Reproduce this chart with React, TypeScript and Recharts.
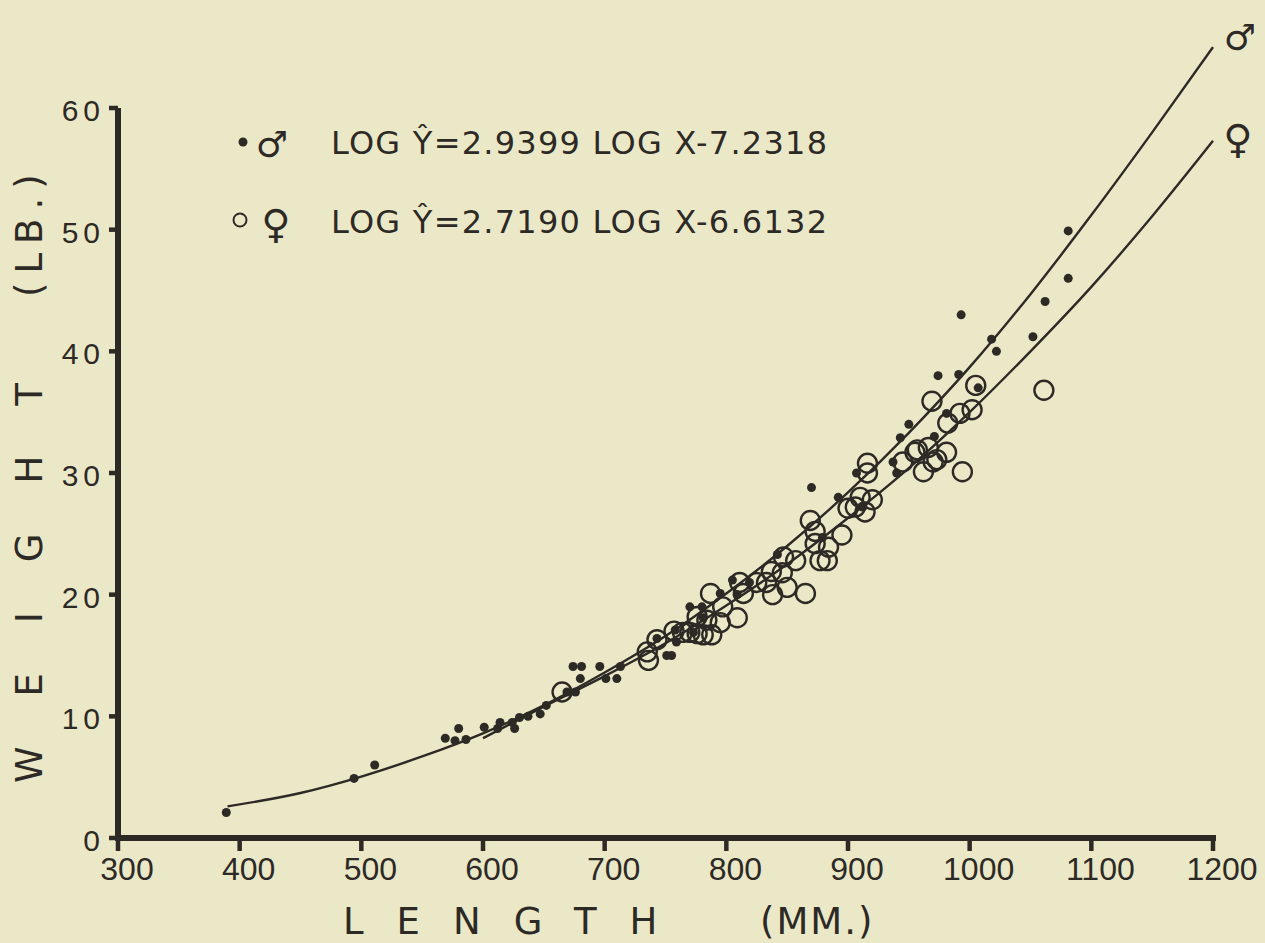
import React from 'react';
import {
  ComposedChart,
  Scatter,
  Line,
  XAxis,
  YAxis,
  ReferenceLine,
} from 'recharts';

// length (mm) / weight (lb) of individual fish
const maleLen = [
  389, 494, 511, 569, 577, 580, 586, 601, 612, 614, 624, 626, 630, 637, 647, 652,
  669, 676, 680, 674, 681, 696, 713, 701, 710, 743, 751, 755, 759, 758, 770, 780,
  773, 781, 795, 805, 809, 819, 842, 870, 879, 892, 907, 912, 937, 940, 943, 950,
  971, 981, 974, 991, 993, 1007, 1018, 1022, 1052, 1062, 1081, 1081,
];
const maleWt = [
  2.1, 4.9, 6.0, 8.2, 8.0, 9.0, 8.1, 9.1, 9.0, 9.5, 9.5, 9.0, 9.9, 10.0, 10.2, 10.9,
  12.0, 12.0, 13.1, 14.1, 14.1, 14.1, 14.1, 13.1, 13.1, 16.4, 15.0, 15.0, 16.1, 17.1, 19.0, 19.0,
  16.9, 18.1, 20.1, 21.2, 20.0, 21.0, 23.3, 28.8, 24.7, 28.0, 30.0, 27.2, 30.9, 30.0, 32.9, 34.0,
  33.0, 34.9, 38.0, 38.1, 43.0, 37.0, 41.0, 40.0, 41.2, 44.1, 46.0, 49.9,
];

const femaleLen = [
  665, 735, 736, 743, 757, 764, 770, 776, 781, 788, 776, 784, 795, 797, 787, 809,
  814, 811, 825, 833, 838, 850, 865, 846, 837, 847, 857, 869, 873, 873, 884, 895,
  877, 883, 900, 910, 920, 914, 906, 916, 916, 945, 955, 957, 966, 973, 981, 962,
  970, 994, 982, 992, 1002, 969, 1005, 1061,
];
const femaleWt = [
  12.0, 15.3, 14.6, 16.3, 17.0, 16.9, 16.9, 16.8, 16.7, 16.7, 18.2, 17.9, 17.7, 19.0, 20.1, 18.1,
  20.1, 21.0, 21.0, 21.0, 20.0, 20.6, 20.1, 21.8, 21.9, 23.1, 22.8, 26.1, 25.2, 24.2, 23.9, 24.9,
  22.8, 22.8, 27.1, 28.0, 27.8, 26.8, 27.2, 30.8, 30.0, 30.9, 31.7, 31.9, 32.1, 31.1, 31.7, 30.1,
  30.9, 30.1, 34.1, 34.9, 35.2, 35.9, 37.2, 36.8,
];

// fitted curves as drawn on the plot
const maleCurveLen = [390, 450, 500, 550, 600, 650, 700, 750, 800, 850, 900, 950, 1000, 1050, 1100, 1150, 1200];
const maleCurveWt = [2.6, 3.7, 5.05, 6.7, 8.6, 10.9, 13.6, 16.6, 20.1, 24.0, 28.4, 33.3, 38.7, 44.7, 51.2, 58.0, 65.0];
const femaleCurveLen = [600, 650, 700, 750, 800, 850, 900, 950, 1000, 1050, 1100, 1150, 1200];
const femaleCurveWt = [8.2, 10.8, 13.3, 16.0, 19.1, 22.5, 26.3, 30.4, 35.0, 40.0, 45.3, 51.1, 57.3];

const xTicks = [300, 400, 500, 600, 700, 800, 900, 1000, 1100, 1200];
const yTicks = [0, 10, 20, 30, 40, 50, 60];

const maleEq = 'LOG Ŷ=2.9399 LOG X-7.2318';
const femaleEq = 'LOG Ŷ=2.7190 LOG X-6.6132';

const BG = '#ebe8c8';
const INK = '#2d2a26';
const FONT = '"DejaVu Sans", sans-serif';
const NUM_FONT = '"Liberation Sans", sans-serif';

const W = 1257;
const H = 935;

const zip = (xs: number[], ys: number[]) => xs.map((x, i) => ({ x, y: ys[i] }));

const maleData = zip(maleLen, maleWt);
const femaleData = zip(femaleLen, femaleWt);
const maleCurve = zip(maleCurveLen, maleCurveWt);
const femaleCurve = zip(femaleCurveLen, femaleCurveWt);

const Dot = (props: any) => <circle cx={props.cx} cy={props.cy} r={4.5} fill={INK} />;
const Ring = (props: any) => (
  <circle cx={props.cx} cy={props.cy} r={9.5} fill="none" stroke={INK} strokeWidth={2.4} />
);

const XTick = ({ x, y, payload }: any) => (
  <text x={x + 9} y={y} dy={29} textAnchor="middle" fontSize={32} fontFamily={NUM_FONT} fill={INK}>
    {payload.value}
  </text>
);

const YTick = ({ x, y, payload }: any) => (
  <text x={x - 4} y={y} dy={13} textAnchor="end" fontSize={30} letterSpacing={5} fontFamily={NUM_FONT} fill={INK}>
    {payload.value}
  </text>
);

export default function App() {
  return (
    <div style={{ position: 'fixed', inset: 0, background: BG }}>
      <div style={{ position: 'absolute', left: 8, top: 8, width: W, height: H }}>
        <ComposedChart width={W} height={H} margin={{ top: 27, right: 52, bottom: 45, left: 0 }}>
          <XAxis
            dataKey="x"
            type="number"
            domain={[300, 1200]}
            ticks={xTicks}
            interval={0}
            height={60}
            tickSize={13}
            tickMargin={0}
            axisLine={{ stroke: INK, strokeWidth: 6, strokeLinecap: 'square' }}
            tickLine={{ stroke: INK, strokeWidth: 4.5 }}
            tick={<XTick />}
          />
          <YAxis
            type="number"
            domain={[0, 66]}
            ticks={yTicks}
            interval={0}
            width={110}
            tickSize={9}
            tickMargin={0}
            axisLine={false}
            tickLine={{ stroke: INK, strokeWidth: 4.5 }}
            tick={<YTick />}
          />
          <ReferenceLine
            segment={[{ x: 300, y: 0 }, { x: 300, y: 60 }]}
            stroke={INK}
            strokeWidth={6}
          />
          <Line
            data={maleCurve}
            dataKey="y"
            type="monotone"
            stroke={INK}
            strokeWidth={2.4}
            dot={false}
            isAnimationActive={false}
          />
          <Line
            data={femaleCurve}
            dataKey="y"
            type="monotone"
            stroke={INK}
            strokeWidth={2.4}
            dot={false}
            isAnimationActive={false}
          />
          <Scatter data={maleData} dataKey="y" shape={<Dot />} isAnimationActive={false} />
          <Scatter data={femaleData} dataKey="y" shape={<Ring />} isAnimationActive={false} />
        </ComposedChart>

        <svg
          width={W}
          height={H}
          style={{ position: 'absolute', left: 0, top: 0, pointerEvents: 'none', overflow: 'visible' }}
          fontFamily={FONT}
          fill={INK}
        >
          {/* legend */}
          <circle cx={235} cy={134} r={4.5} fill={INK} />
          <text x={264} y={149} fontSize={36} textAnchor="middle">♂</text>
          <text x={323} y={146} fontSize={32} textLength={496} lengthAdjust="spacing">{maleEq}</text>

          <circle cx={232} cy={212} r={6.5} fill="none" stroke={INK} strokeWidth={2} />
          <text x={268} y={230} fontSize={40} textAnchor="middle">♀</text>
          <text x={323} y={225} fontSize={32} textLength={496} lengthAdjust="spacing">{femaleEq}</text>

          {/* curve labels */}
          <text x={1232} y={42} fontSize={36} textAnchor="middle">♂</text>
          <text x={1230} y={145} fontSize={40} textAnchor="middle">♀</text>

          {/* axis titles */}
          <text transform="translate(34, 775) rotate(-90)" fontSize={37} letterSpacing={50}>WEIGHT</text>
          <text transform="translate(34, 289) rotate(-90)" fontSize={37} letterSpacing={9}>(LB.)</text>
          <text x={335} y={926} fontSize={37} letterSpacing={33}>LENGTH</text>
          <text x={752} y={926} fontSize={37} letterSpacing={2}>(MM.)</text>
        </svg>
      </div>
    </div>
  );
}
